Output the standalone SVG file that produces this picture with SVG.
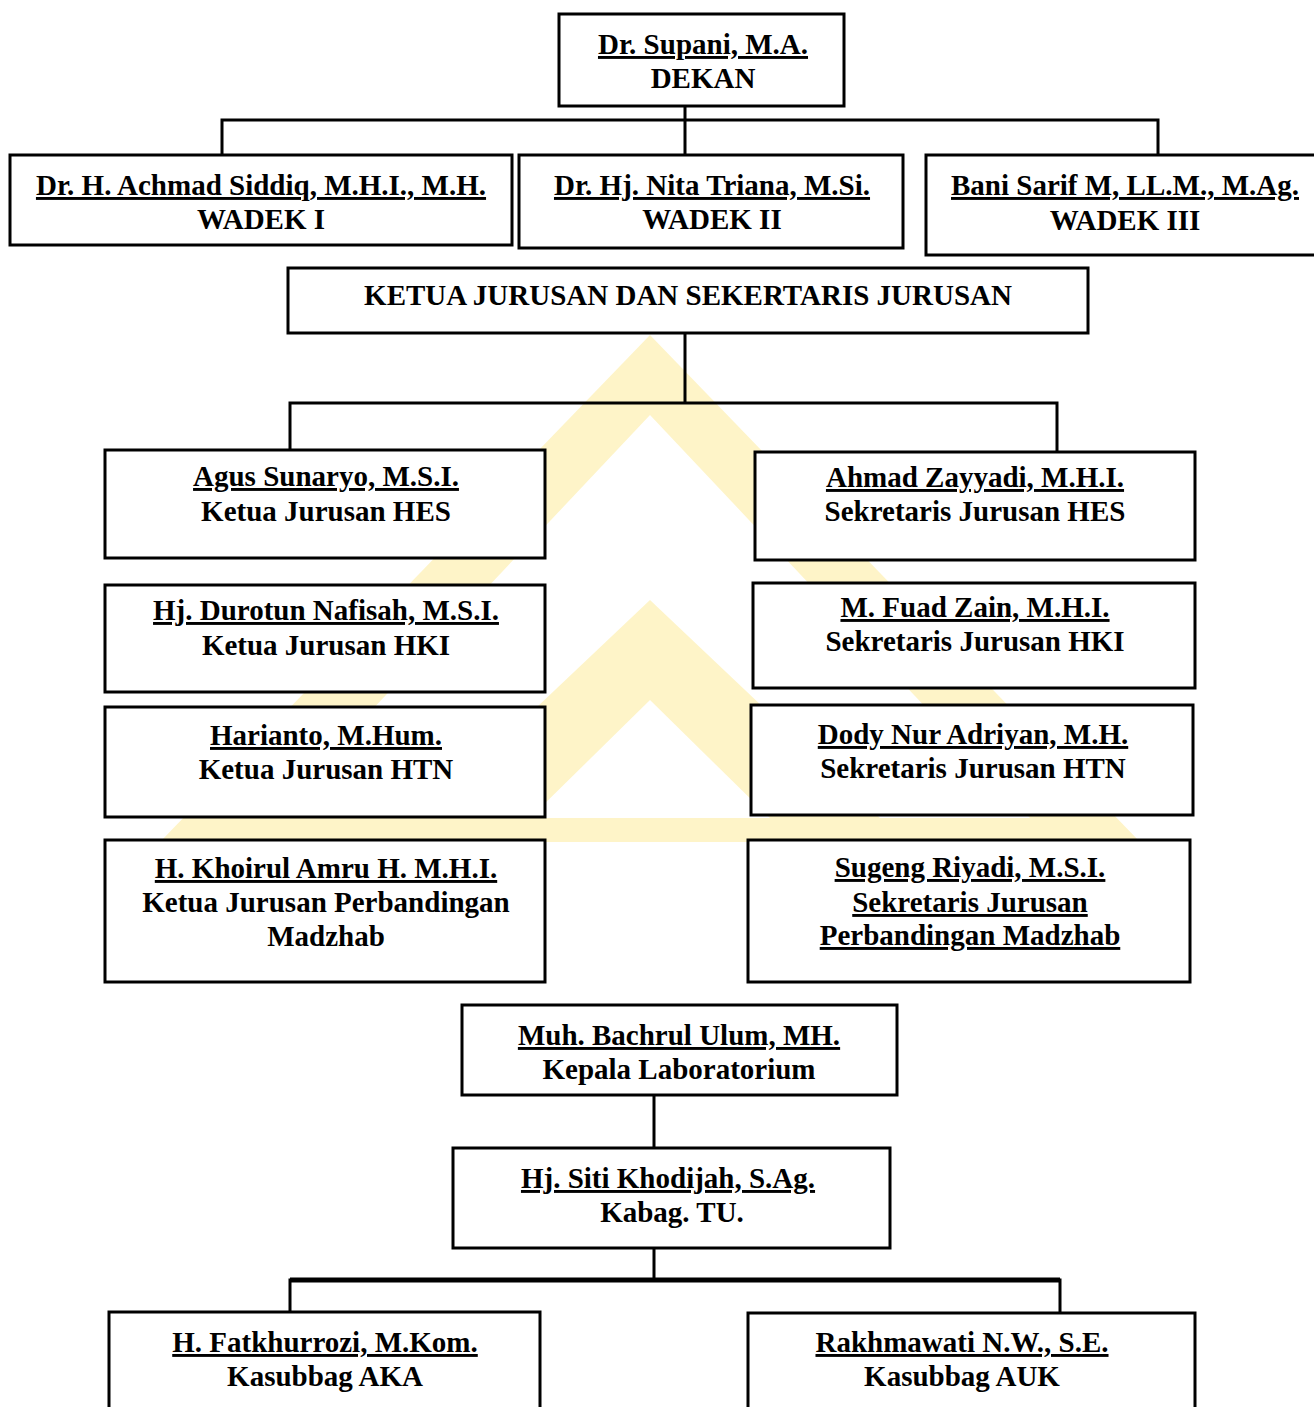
<svg xmlns="http://www.w3.org/2000/svg" width="1314" height="1407" viewBox="0 0 1314 1407">
<style>
.box{fill:#fff;stroke:#000;stroke-width:3}
.t{font-family:"Liberation Serif","Times New Roman",serif;font-weight:bold;font-size:29px;fill:#000;text-anchor:middle}
.u{text-decoration:underline}
.c{stroke:#000;stroke-width:3;fill:none}
</style>
<rect width="1314" height="1407" fill="#fff"/>
<g id="watermark" fill="#fef4c8">
<polygon points="650,335 1140,842 160,842"/>
<polygon points="650,415 1030,818 270,818" fill="#fff"/>
<polygon points="650,600 880,818 420,818"/>
<polygon points="650,700 770,818 530,818" fill="#fff"/>
</g>
<g id="connectors" class="c">
<path d="M685,106 V120 M222,155 V120 H1158 V155 M685,120 V155"/>
<path d="M685,333 V403 M290,450 V403 H1057 V452"/>
<path d="M654,1095 V1148"/>
<path d="M654,1248 V1280 M290,1312 V1280 H1060 V1313"/>
<path d="M290,1280 H1060" stroke-width="5"/>
</g>
<g id="dekan"><rect class="box" x="559" y="14" width="285" height="92"/>
<text class="t u" x="703" y="54">Dr. Supani, M.A.</text><text class="t" x="703" y="88">DEKAN</text></g>
<g id="wadek1"><rect class="box" x="10" y="155" width="502" height="90"/>
<text class="t u" x="261" y="195">Dr. H. Achmad Siddiq, M.H.I., M.H.</text><text class="t" x="261" y="229">WADEK I</text></g>
<g id="wadek2"><rect class="box" x="519" y="155" width="384" height="93"/>
<text class="t u" x="712" y="195">Dr. Hj. Nita Triana, M.Si.</text><text class="t" x="712" y="229">WADEK II</text></g>
<g id="wadek3"><rect class="box" x="926" y="155" width="390" height="100"/>
<text class="t u" x="1125" y="195">Bani Sarif M, LL.M., M.Ag.</text><text class="t" x="1125" y="230">WADEK III</text></g>
<g id="kajur"><rect class="box" x="288" y="268" width="800" height="65"/>
<text class="t" x="688" y="305">KETUA JURUSAN DAN SEKERTARIS JURUSAN</text></g>
<g id="kajur-hes"><rect class="box" x="105" y="450" width="440" height="108"/>
<text class="t u" x="326" y="486">Agus Sunaryo, M.S.I.</text><text class="t" x="326" y="521">Ketua Jurusan HES</text></g>
<g id="kajur-hki"><rect class="box" x="105" y="585" width="440" height="107"/>
<text class="t u" x="326" y="620">Hj. Durotun Nafisah, M.S.I.</text><text class="t" x="326" y="655">Ketua Jurusan HKI</text></g>
<g id="kajur-htn"><rect class="box" x="105" y="707" width="440" height="110"/>
<text class="t u" x="326" y="745">Harianto, M.Hum.</text><text class="t" x="326" y="779">Ketua Jurusan HTN</text></g>
<g id="kajur-pm"><rect class="box" x="105" y="840" width="440" height="142"/>
<text class="t u" x="326" y="878">H. Khoirul Amru H. M.H.I.</text><text class="t" x="326" y="912">Ketua Jurusan Perbandingan</text><text class="t" x="326" y="946">Madzhab</text></g>
<g id="sekjur-hes"><rect class="box" x="755" y="452" width="440" height="108"/>
<text class="t u" x="975" y="487">Ahmad Zayyadi, M.H.I.</text><text class="t" x="975" y="521">Sekretaris Jurusan HES</text></g>
<g id="sekjur-hki"><rect class="box" x="753" y="583" width="442" height="105"/>
<text class="t u" x="975" y="617">M. Fuad Zain, M.H.I.</text><text class="t" x="975" y="651">Sekretaris Jurusan HKI</text></g>
<g id="sekjur-htn"><rect class="box" x="751" y="705" width="442" height="110"/>
<text class="t u" x="973" y="744">Dody Nur Adriyan, M.H.</text><text class="t" x="973" y="778">Sekretaris Jurusan HTN</text></g>
<g id="sekjur-pm"><rect class="box" x="748" y="840" width="442" height="142"/>
<text class="t u" x="970" y="877">Sugeng Riyadi, M.S.I.</text><text class="t u" x="970" y="912">Sekretaris Jurusan</text><text class="t u" x="970" y="945">Perbandingan Madzhab</text></g>
<g id="kalab"><rect class="box" x="462" y="1005" width="435" height="90"/>
<text class="t u" x="679" y="1045">Muh. Bachrul Ulum, MH.</text><text class="t" x="679" y="1079">Kepala Laboratorium</text></g>
<g id="kabag"><rect class="box" x="453" y="1148" width="437" height="100"/>
<text class="t u" x="668" y="1188">Hj. Siti Khodijah, S.Ag.</text><text class="t" x="672" y="1222">Kabag. TU.</text></g>
<g id="aka"><rect class="box" x="109" y="1312" width="431" height="110"/>
<text class="t u" x="325" y="1352">H. Fatkhurrozi, M.Kom.</text><text class="t" x="325" y="1386">Kasubbag AKA</text></g>
<g id="auk"><rect class="box" x="748" y="1313" width="447" height="110"/>
<text class="t u" x="962" y="1352">Rakhmawati N.W., S.E.</text><text class="t" x="962" y="1386">Kasubbag AUK</text></g>
</svg>
